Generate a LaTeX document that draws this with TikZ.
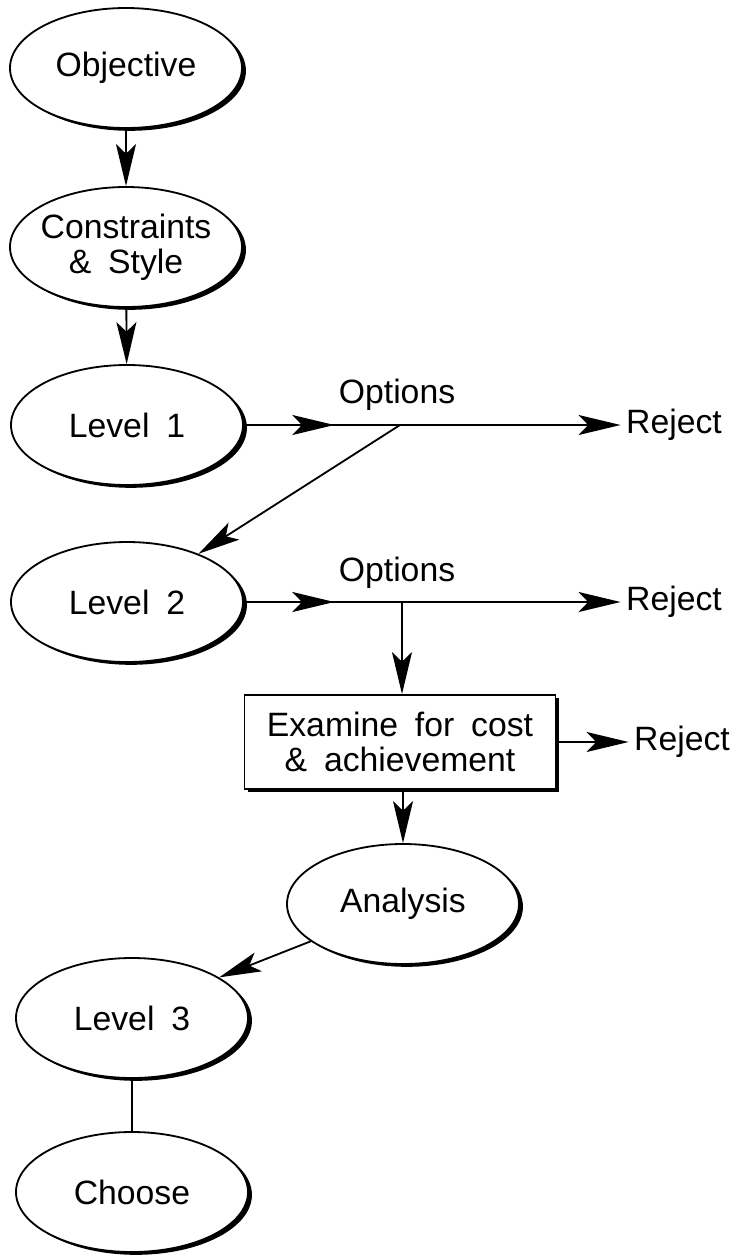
\documentclass[tikz,border=0pt]{standalone}
\usepackage{fontspec}
\setmainfont{Liberation Sans}[WordSpace=1.8]
\usetikzlibrary{arrows.meta,shapes.geometric,shadows,decorations.markings}

\begin{document}
\begin{tikzpicture}[
    stage/.style={ellipse, draw, fill=white, inner sep=0pt, minimum width=5.8cm, minimum height=3cm, align=center,
        drop shadow={shadow xshift=2.8pt, shadow yshift=-2pt, opacity=1, fill=black}},
    check/.style={rectangle, draw, fill=white, minimum width=7.775cm, minimum height=2.35cm, align=center,
        drop shadow={shadow xshift=2.8pt, shadow yshift=-2pt, opacity=1, fill=black}},
    midtip/.style={postaction={decorate}, decoration={markings, mark=at position #1 with {\arrow{>}}}},
    >={Stealth[length=1.05cm, width=0.5cm, inset=0.24cm]},
    line width=1.3pt,
    font=\fontsize{24}{25}\selectfont
]
\useasboundingbox (0,0) rectangle (18.25,-31.375);

\node[stage] (obj) at (3.15,-1.70) {Objective};
\node[stage, inner xsep=-6pt] (con) at (3.15,-6.175) {Constraints\\\& Style};
\node[stage] (l1) at (3.175,-10.625) {Level 1};
\node[stage] (l2) at (3.175,-15.05) {Level 2};
\node[check] (box) at (10.0,-18.55) {Examine for cost\\\& achievement};
\node[stage] (an) at (10.075,-22.6) {Analysis};
\node[stage] (l3) at (3.3,-25.45) {Level 3};
\node[stage] (ch) at (3.3,-29.8) {Choose};

\node (opt1) at (9.925,-9.875) {Options};
\node (opt2) at (9.925,-14.325) {Options};
\node (rej1) at (16.85,-10.625) {Reject};
\node (rej2) at (16.85,-15.05) {Reject};
\node (rej3) at (17.05,-18.55) {Reject};

\coordinate (b1) at (10.0,-10.625);
\coordinate (b2) at (10.05,-15.05);

\draw[->] (obj) -- (con);
\draw[->] (con) -- (l1);
\draw[->, midtip=0.24] (l1.east) -- (rej1.west);
\draw[->] (b1) -- (l2.34);
\draw[->, midtip=0.24] (l2.east) -- (rej2.west);
\draw[->] (b2) -- (b2 |- box.north);
\draw[->] (box.east) -- (rej3.west);
\draw[->] (an.north |- box.south) -- (an.north);
\draw[->] (an.202) -- (l3.25);
\draw (l3) -- (ch);
\end{tikzpicture}
\end{document}
